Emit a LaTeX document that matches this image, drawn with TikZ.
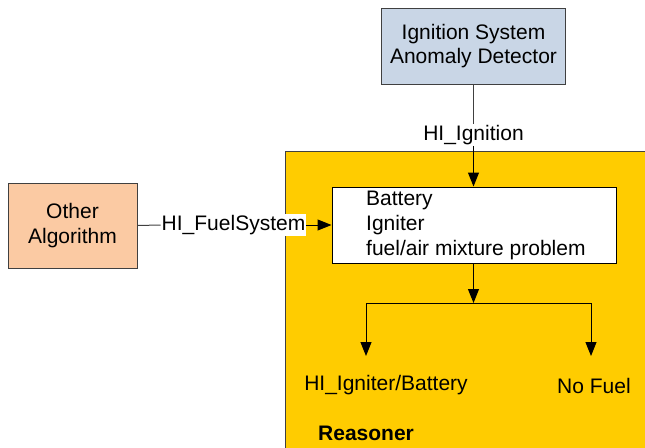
\documentclass[tikz,border=0pt]{standalone}
\usepackage{fontspec}
\setmainfont{Liberation Sans}
\usetikzlibrary{arrows.meta}
\definecolor{boxblue}{HTML}{C9D6E6}
\definecolor{boxpeach}{HTML}{FBCAA3}
\definecolor{reasonyellow}{HTML}{FFCC00}
\definecolor{edgegray}{HTML}{404040}
\tikzset{
  every node/.style={font=\fontsize{21}{24.5}\selectfont},
  blockbox/.style={draw=edgegray, line width=1pt, align=center, inner sep=0pt},
  conn/.style={line width=1pt, draw=black},
  tip/.style={-{Triangle[width=11pt,length=14pt]}},
  lbl/.style={inner sep=1pt},
}
\begin{document}
\begin{tikzpicture}[x=1pt,y=-1pt]
\useasboundingbox (0,0) rectangle (645,447);
% reasoner region
\fill[reasonyellow] (285,151) rectangle (650,452);
\draw[edgegray, line width=1pt] (285,452) -- (285,151) -- (650,151);
% boxes
\node[blockbox, fill=boxblue, minimum width=184pt, minimum height=76pt] (isad) at (473.5,46) {Ignition System\\Anomaly Detector};
\node[blockbox, fill=boxpeach, minimum width=129pt, minimum height=85pt] (other) at (72.5,225.5) {Other\\Algorithm};
\node[draw=black, line width=1pt, fill=white, minimum width=284pt, minimum height=76pt, inner sep=0pt] (hyp) at (474,225) {};
\node[anchor=west, align=left, inner sep=0pt, font=\fontsize{21}{25}\selectfont] (hyptext) at (366,225) {Battery\\Igniter\\fuel/air mixture problem};
% labels
\node[lbl] (lignition) at (473.5,135) {HI\_Ignition};
\node[lbl, fill=white, inner sep=1pt] (lfuel) at (233.5,225) {HI\_FuelSystem};
\node[lbl] (ligniter) at (386,385) {HI\_Igniter/Battery};
\node[lbl] (lnofuel) at (594,386) {No Fuel};
\node[lbl, anchor=west, font=\fontsize{21}{24}\selectfont\bfseries] (lreasoner) at (317,433) {Reasoner};
% connectors
\coordinate (split) at (473.5,303);
\coordinate (leftc) at (366,303);
\coordinate (rightc) at (591,303);
\coordinate (leftend) at (366,356);
\coordinate (rightend) at (591,356);
\draw[conn, draw=edgegray] (isad.south) -- (lignition.north);
\draw[conn, tip] (lignition.south) -- (hyp.north -| lignition);
\draw[conn, draw=edgegray] (other.east) -- (lfuel.west);
\draw[conn, tip] (lfuel.east) -- (hyp.west);
\draw[conn, tip] (hyp.south -| split) -- (split);
\draw[conn] (leftc) -- (rightc);
\draw[conn, tip] (leftc) -- (leftend);
\draw[conn, tip] (rightc) -- (rightend);
\end{tikzpicture}
\end{document}
